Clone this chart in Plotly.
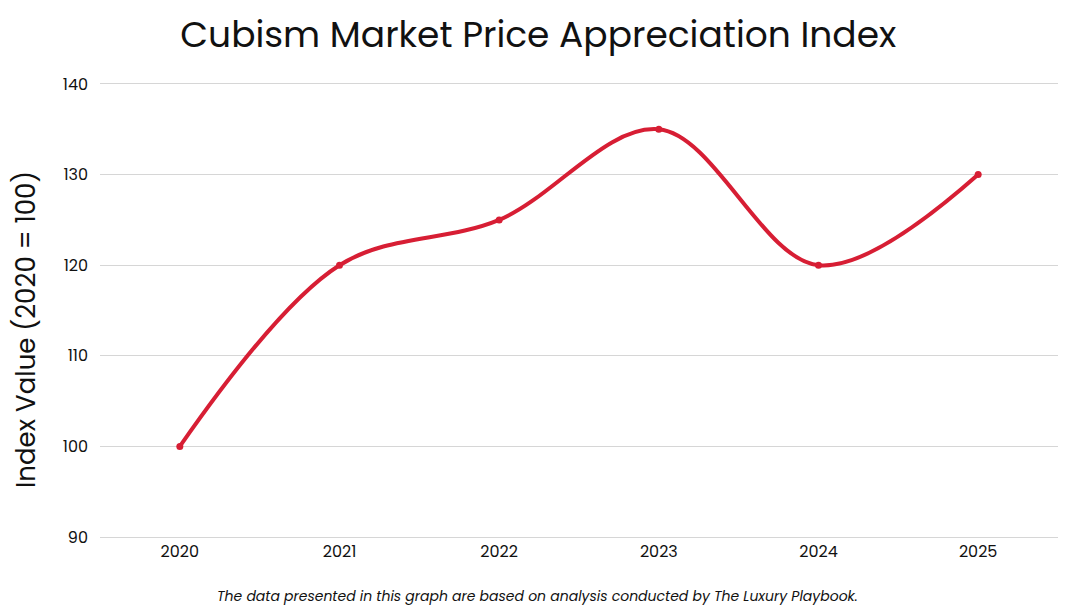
import plotly.graph_objects as go

years = ["2020", "2021", "2022", "2023", "2024", "2025"]
index_values = [100, 120, 125, 135, 120, 130]
y_ticks = [90, 100, 110, 120, 130, 140]

LINE_COLOR = "#D71E34"
GRID_COLOR = "#D6D6D6"
FONT = "Poppins, Lato, Open Sans, sans-serif"

fig = go.Figure()
fig.add_trace(go.Scatter(
    x=years,
    y=index_values,
    mode="lines+markers",
    line=dict(color=LINE_COLOR, width=4, shape="spline", smoothing=1),
    marker=dict(color=LINE_COLOR, size=7),
    showlegend=False,
))

fig.update_layout(
    width=1080,
    height=607,
    margin=dict(l=92, r=30, t=76, b=78),
    paper_bgcolor="white",
    plot_bgcolor="white",
    font=dict(family=FONT, color="#111111"),
    title=dict(
        text="Cubism Market Price Appreciation Index",
        x=0.491, xanchor="center",
        y=0.957, yanchor="middle",
        font=dict(size=36, color="#111111"),
    ),
    annotations=[
        # y axis title, placed by hand so it sits a bit below the plot centre
        dict(
            text="Index Value (2020 = 100)",
            xref="paper", yref="paper",
            x=-0.0772, y=0.457, xanchor="center", yanchor="middle",
            textangle=-90, showarrow=False,
            font=dict(size=26, color="#111111"),
        ),
        dict(
            text="<i>The data presented in this graph are based on analysis conducted by The Luxury Playbook.</i>",
            xref="paper", yref="paper",
            x=0.457, y=-0.13, xanchor="center", yanchor="middle",
            showarrow=False,
            font=dict(size=14, color="#111111"),
        ),
    ],
)

fig.update_xaxes(
    type="category",
    range=[-0.5, 5.5],
    showgrid=False,
    showline=True,
    mirror=True,
    linecolor=GRID_COLOR,
    linewidth=1,
    ticks="",
    tickfont=dict(size=16),
)
fig.update_yaxes(
    range=[90, 140],
    tickvals=y_ticks,
    showgrid=True,
    gridcolor=GRID_COLOR,
    gridwidth=1,
    zeroline=False,
    showline=False,
    ticks="",
    ticklabelstandoff=11,
    tickfont=dict(size=16),
)

fig.write_html("out.html")
